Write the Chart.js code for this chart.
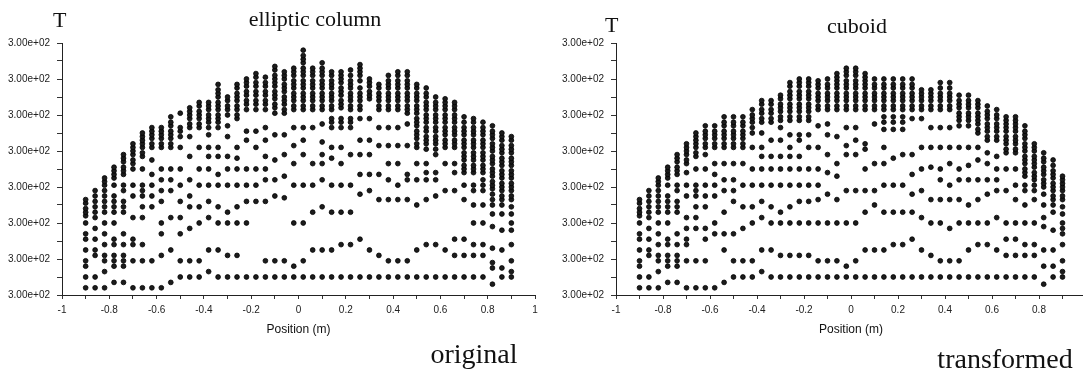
<!DOCTYPE html>
<html>
<head>
<meta charset="utf-8">
<script src="https://cdn.jsdelivr.net/npm/chart.js@4.4.1/dist/chart.umd.min.js"></script>
<style>
html, body { margin: 0; padding: 0; background: #fff; width: 1083px; height: 376px; overflow: hidden; }
.panel { position: absolute; top: 0; }
.lbl { position: absolute; font-family: "Liberation Serif", "Times New Roman", serif; color: #111; white-space: nowrap; }
.mid { transform: translateX(-50%); }
</style>
</head>
<body>
<canvas id="elliptic-chart" class="panel" width="545" height="345" style="left:0px"></canvas>
<canvas id="cuboid-chart" class="panel" width="551" height="345" style="left:545px"></canvas>
<div class="lbl" style="left:53px;top:9px;font-size:22px;line-height:22px">T</div>
<div class="lbl mid" style="left:315px;top:8px;font-size:22px;line-height:22px">elliptic column</div>
<div class="lbl" style="left:605px;top:14px;font-size:22px;line-height:22px">T</div>
<div class="lbl mid" style="left:857px;top:15px;font-size:22px;line-height:22px">cuboid</div>
<div class="lbl mid" style="left:474px;top:340px;font-size:28px;line-height:28px">original</div>
<div class="lbl mid" style="left:1005px;top:345px;font-size:28px;line-height:28px">transformed</div>
<script>
// x position (m) of each column of nodes
var positions = [-0.9, -0.86, -0.82, -0.78, -0.74, -0.7, -0.66, -0.62, -0.58, -0.54,
    -0.5, -0.46, -0.42, -0.38, -0.34, -0.3, -0.26, -0.22, -0.18, -0.14,
    -0.1, -0.06, -0.02, 0.02, 0.06, 0.1, 0.14, 0.18, 0.22, 0.26,
    0.3, 0.34, 0.38, 0.42, 0.46, 0.5, 0.54, 0.58, 0.62, 0.66,
    0.7, 0.74, 0.78, 0.82, 0.86, 0.9];

// T of the nodes in each column, in axis steps (20 = one labelled tick)
var ellipticT = [
    [4, 10, 16, 19, 25, 31, 34, 40, 44, 46, 48, 51, 53],
    [4, 10, 22, 25, 31, 37, 43, 46, 49, 52, 55, 58],
    [4, 13, 19, 22, 28, 34, 40, 46, 49, 52, 55, 58, 61, 63, 65],
    [7, 16, 19, 22, 28, 31, 40, 46, 49, 52, 55, 61, 65, 67, 69, 71],
    [7, 16, 19, 22, 28, 34, 46, 49, 52, 58, 61, 67, 69, 71, 74, 76, 78],
    [4, 19, 28, 31, 43, 55, 61, 70, 73, 75, 78, 80, 82, 84],
    [4, 19, 28, 43, 49, 55, 58, 61, 70, 77, 79, 82, 84, 86, 88, 90],
    [4, 19, 49, 55, 61, 67, 75, 82, 84, 87, 89, 91, 93],
    [4, 22, 34, 40, 52, 58, 64, 70, 82, 84, 87, 89, 91, 93],
    [7, 25, 43, 58, 64, 70, 82, 84, 87, 89, 91, 94, 96, 99],
    [10, 19, 34, 43, 52, 61, 70, 82, 88, 91, 93, 101],
    [10, 19, 37, 49, 55, 64, 77, 88, 93, 95, 98, 100, 102, 104],
    [10, 19, 40, 49, 61, 70, 82, 93, 95, 98, 100, 102, 105, 107],
    [13, 25, 43, 52, 61, 70, 77, 82, 89, 93, 96, 98, 100, 103, 105, 107],
    [10, 25, 40, 49, 61, 67, 77, 82, 93, 96, 98, 100, 103, 105, 107, 110, 112, 114, 117],
    [10, 22, 40, 46, 61, 70, 77, 88, 94, 100, 103, 105, 108, 110],
    [10, 22, 40, 49, 61, 70, 76, 82, 98, 100, 103, 105, 108, 110, 112, 115, 117],
    [10, 40, 52, 61, 70, 86, 91, 103, 106, 108, 111, 113, 116, 118, 120],
    [10, 52, 61, 70, 82, 91, 103, 106, 108, 111, 113, 116, 118, 121, 123],
    [10, 19, 52, 64, 70, 77, 86, 93, 103, 106, 108, 111, 113, 116, 118, 121],
    [10, 19, 55, 64, 75, 89, 101, 104, 106, 109, 111, 113, 116, 118, 120, 122, 125, 127],
    [10, 19, 54, 66, 78, 89, 101, 103, 106, 108, 110, 113, 115, 117, 120, 122, 124],
    [10, 16, 40, 61, 73, 83, 93, 103, 105, 108, 110, 112, 115, 117, 119, 122, 124, 126],
    [10, 19, 40, 61, 78, 86, 93, 103, 105, 108, 110, 112, 115, 117, 119, 122, 124, 126, 129, 131, 133, 136],
    [10, 25, 46, 61, 73, 93, 103, 105, 108, 110, 112, 115, 117, 119, 122, 124, 126],
    [10, 25, 49, 64, 73, 78, 85, 95, 103, 105, 108, 110, 112, 115, 117, 119, 122, 124, 126, 129],
    [10, 25, 46, 61, 76, 82, 93, 96, 98, 103, 105, 108, 110, 112, 115, 117, 119, 122, 124],
    [10, 28, 46, 61, 73, 82, 93, 96, 98, 104, 106, 108, 111, 113, 115, 118, 120, 122, 124],
    [10, 28, 46, 61, 78, 93, 96, 98, 103, 105, 108, 110, 112, 115, 117, 119, 122, 125],
    [10, 31, 56, 67, 78, 86, 98, 103, 105, 108, 110, 112, 115, 119, 122, 124, 126, 128],
    [10, 25, 58, 67, 78, 86, 98, 109, 111, 113, 116, 118, 120],
    [10, 22, 53, 67, 83, 93, 103, 105, 108, 110, 112, 115, 117],
    [10, 19, 53, 64, 73, 83, 93, 103, 105, 108, 110, 112, 115, 117, 119, 122],
    [10, 19, 53, 61, 73, 83, 93, 103, 105, 108, 110, 112, 115, 117, 119, 122, 124],
    [10, 19, 53, 64, 67, 83, 95, 101, 103, 105, 108, 110, 112, 115, 117, 119, 122, 124],
    [10, 25, 50, 64, 73, 82, 84, 87, 89, 91, 94, 96, 98, 101, 103, 105, 108, 110, 112, 115, 117],
    [10, 28, 53, 64, 68, 73, 81, 84, 86, 88, 91, 93, 96, 98, 100, 103, 105, 107, 110, 112, 115],
    [10, 28, 55, 64, 68, 78, 81, 84, 86, 88, 91, 93, 96, 98, 100, 103, 105, 107, 110],
    [10, 25, 58, 73, 82, 84, 86, 89, 91, 93, 96, 98, 100, 103, 105, 107, 109],
    [10, 22, 31, 58, 68, 73, 82, 84, 86, 89, 91, 93, 96, 98, 100, 103, 105, 107],
    [10, 22, 31, 53, 61, 68, 70, 72, 75, 77, 79, 82, 84, 86, 89, 91, 93, 96, 99],
    [10, 22, 28, 40, 50, 58, 61, 68, 70, 72, 75, 77, 79, 82, 84, 86, 89, 91, 93, 96, 98],
    [10, 22, 28, 40, 50, 58, 61, 64, 68, 70, 72, 75, 77, 79, 82, 84, 86, 89, 91, 93, 96],
    [6, 15, 18, 26, 38, 45, 50, 53, 56, 59, 61, 63, 66, 68, 70, 73, 75, 77, 80, 82, 84, 87, 89, 91, 94],
    [10, 15, 25, 36, 45, 50, 53, 55, 58, 60, 62, 65, 67, 69, 72, 74, 76, 79, 81, 83, 86, 88, 90],
    [10, 13, 19, 28, 36, 40, 45, 49, 53, 55, 58, 60, 62, 65, 67, 69, 72, 74, 76, 79, 81, 83, 86, 88]
];

var cuboidT = [
    [4, 10, 16, 19, 25, 31, 34, 40, 44, 46, 48, 51, 53],
    [4, 10, 22, 25, 31, 37, 43, 46, 49, 52, 55, 58],
    [4, 13, 19, 22, 28, 34, 40, 46, 49, 52, 55, 58, 61, 63, 65],
    [7, 16, 19, 22, 28, 31, 40, 46, 49, 52, 55, 61, 65, 67, 69, 71],
    [7, 16, 19, 22, 28, 34, 46, 49, 52, 58, 61, 67, 69, 71, 74, 76, 78],
    [4, 19, 28, 31, 37, 43, 55, 61, 68, 73, 75, 78, 80, 82, 84],
    [4, 19, 37, 43, 49, 55, 58, 61, 70, 77, 79, 82, 84, 86, 88, 90],
    [4, 19, 31, 37, 49, 55, 61, 70, 78, 82, 84, 87, 89, 91, 94],
    [4, 34, 40, 55, 61, 67, 73, 82, 84, 87, 89, 91, 94],
    [7, 25, 34, 46, 58, 64, 73, 82, 84, 87, 89, 91, 94, 96, 99],
    [10, 19, 34, 52, 58, 64, 73, 82, 84, 87, 89, 91, 94, 96, 99],
    [10, 19, 37, 49, 61, 73, 82, 84, 87, 89, 91, 94, 96, 99],
    [10, 19, 40, 49, 61, 70, 82, 90, 93, 96, 98, 100, 103],
    [13, 25, 43, 52, 61, 70, 77, 82, 90, 96, 98, 101, 103, 106, 108],
    [10, 25, 40, 49, 61, 70, 77, 86, 96, 98, 101, 103, 106, 108],
    [10, 22, 40, 46, 61, 70, 77, 86, 93, 97, 99, 102, 104, 106, 109, 111],
    [10, 22, 40, 49, 61, 70, 77, 82, 89, 97, 99, 102, 104, 106, 109, 111, 113, 116, 118],
    [10, 22, 40, 52, 61, 70, 77, 86, 89, 97, 99, 102, 104, 106, 109, 111, 113, 116, 118, 120],
    [10, 22, 40, 52, 61, 70, 82, 89, 97, 99, 102, 104, 106, 109, 111, 113, 116, 118, 120],
    [10, 19, 40, 53, 61, 70, 82, 94, 103, 105, 108, 110, 112, 115, 117, 119],
    [10, 19, 40, 56, 68, 78, 89, 95, 103, 105, 108, 110, 112, 115, 117, 120],
    [10, 19, 40, 53, 66, 73, 88, 103, 105, 108, 110, 112, 115, 117, 119, 121, 123],
    [10, 16, 40, 58, 78, 83, 93, 103, 105, 108, 110, 112, 115, 117, 119, 122, 124, 126],
    [10, 19, 40, 58, 78, 86, 93, 103, 105, 108, 110, 112, 115, 117, 119, 122, 124, 126],
    [10, 25, 46, 58, 70, 81, 84, 103, 105, 108, 110, 112, 115, 117, 119, 121, 123],
    [10, 25, 50, 58, 73, 95, 103, 105, 108, 110, 112, 115, 117, 120],
    [10, 25, 46, 61, 73, 82, 92, 96, 99, 103, 105, 108, 110, 112, 115, 117, 120],
    [10, 28, 46, 61, 76, 92, 96, 99, 103, 105, 108, 110, 112, 115, 117, 120],
    [10, 28, 46, 61, 78, 92, 96, 99, 103, 105, 108, 110, 112, 115, 117, 120],
    [10, 31, 46, 56, 67, 78, 98, 103, 105, 108, 110, 112, 115, 117, 120],
    [10, 25, 43, 58, 70, 82, 98, 103, 105, 108, 110, 112, 114],
    [10, 22, 40, 53, 71, 82, 93, 103, 105, 108, 110, 112, 114],
    [10, 19, 40, 53, 64, 70, 82, 93, 103, 105, 108, 110, 112, 115, 118],
    [10, 19, 37, 53, 61, 73, 82, 93, 103, 105, 108, 110, 112, 115, 118],
    [10, 19, 40, 53, 64, 70, 82, 94, 97, 99, 101, 104, 106, 108, 111],
    [10, 25, 40, 50, 64, 72, 82, 94, 97, 99, 101, 104, 106, 108, 111],
    [10, 28, 40, 53, 64, 75, 82, 90, 92, 95, 97, 99, 101, 104, 106, 108],
    [10, 28, 40, 56, 64, 73, 79, 86, 88, 91, 93, 95, 98, 100, 102, 105],
    [10, 25, 43, 58, 64, 70, 77, 86, 88, 91, 93, 95, 98, 100, 103],
    [10, 22, 31, 40, 58, 70, 79, 81, 84, 86, 88, 91, 93, 95, 97, 99],
    [10, 22, 31, 40, 53, 61, 70, 79, 81, 84, 86, 88, 91, 93, 95, 97, 99],
    [10, 22, 28, 40, 50, 58, 61, 66, 68, 70, 73, 75, 77, 80, 82, 84, 87, 89, 91, 94],
    [10, 22, 28, 40, 53, 58, 61, 64, 66, 68, 71, 73, 75, 77, 80, 82, 84],
    [6, 16, 25, 38, 43, 50, 56, 60, 62, 64, 67, 69, 71, 74, 76, 79],
    [10, 16, 25, 36, 46, 50, 53, 55, 58, 60, 62, 65, 67, 69, 72, 75],
    [10, 13, 19, 28, 34, 37, 40, 45, 49, 53, 55, 58, 60, 62, 64, 66]
];

var yTickLabel = "3.00e+02";
var xTitle = "Position (m)";

function toPoints(columns) {
    let pts = [];
    for (let i = 0; i < columns.length; i++) {
        for (let j = 0; j < columns[i].length; j++) {
            pts.push({ x: positions[i], y: columns[i][j] });
        }
    }
    return pts;
}

function makeChart(id, columns, axisWidth) {
    let ctx = document.getElementById(id);
    return new Chart(ctx, {
        type: "scatter",
        data: {
            datasets: [{
                data: toPoints(columns),
                pointRadius: 2.4,
                pointBorderWidth: 0.8,
                backgroundColor: "#1c1c1c",
                borderColor: "#000",
                pointHoverRadius: 2.4
            }]
        },
        options: {
            responsive: false,
            animation: false,
            events: [],
            layout: { padding: { top: 43, right: 10, left: 0, bottom: 0 } },
            plugins: { legend: { display: false }, tooltip: { enabled: false } },
            scales: {
                x: {
                    type: "linear",
                    min: -1,
                    max: 1,
                    afterFit: function (scale) { scale.height = 50; },
                    border: { display: true, color: "#222", width: 1 },
                    grid: { drawOnChartArea: false, drawTicks: true, tickLength: 4, color: "#333" },
                    ticks: {
                        stepSize: 0.1,
                        padding: 5,
                        color: "#222",
                        font: { family: "Liberation Sans, Arial, sans-serif", size: 10 },
                        maxRotation: 0,
                        autoSkip: false,
                        callback: function (v) {
                            let t = Math.round(v * 10);
                            return t % 2 === 0 ? String(t / 10) : "";
                        }
                    },
                    title: {
                        display: true,
                        text: xTitle,
                        color: "#111",
                        padding: { top: 0, bottom: 8 },
                        font: { family: "Liberation Sans, Arial, sans-serif", size: 12 }
                    }
                },
                y: {
                    type: "linear",
                    min: 0,
                    max: 140,
                    afterFit: function (scale) { scale.width = axisWidth; },
                    border: { display: true, color: "#222", width: 1 },
                    grid: { drawOnChartArea: false, drawTicks: true, tickLength: 5, color: "#333" },
                    ticks: {
                        stepSize: 10,
                        padding: 7,
                        color: "#222",
                        autoSkip: false,
                        font: { family: "Liberation Sans, Arial, sans-serif", size: 10 },
                        callback: function (v) { return v % 20 === 0 ? yTickLabel : ""; }
                    }
                }
            }
        }
    });
}

makeChart("elliptic-chart", ellipticT, 62);
makeChart("cuboid-chart", cuboidT, 71);
</script>
</body>
</html>
